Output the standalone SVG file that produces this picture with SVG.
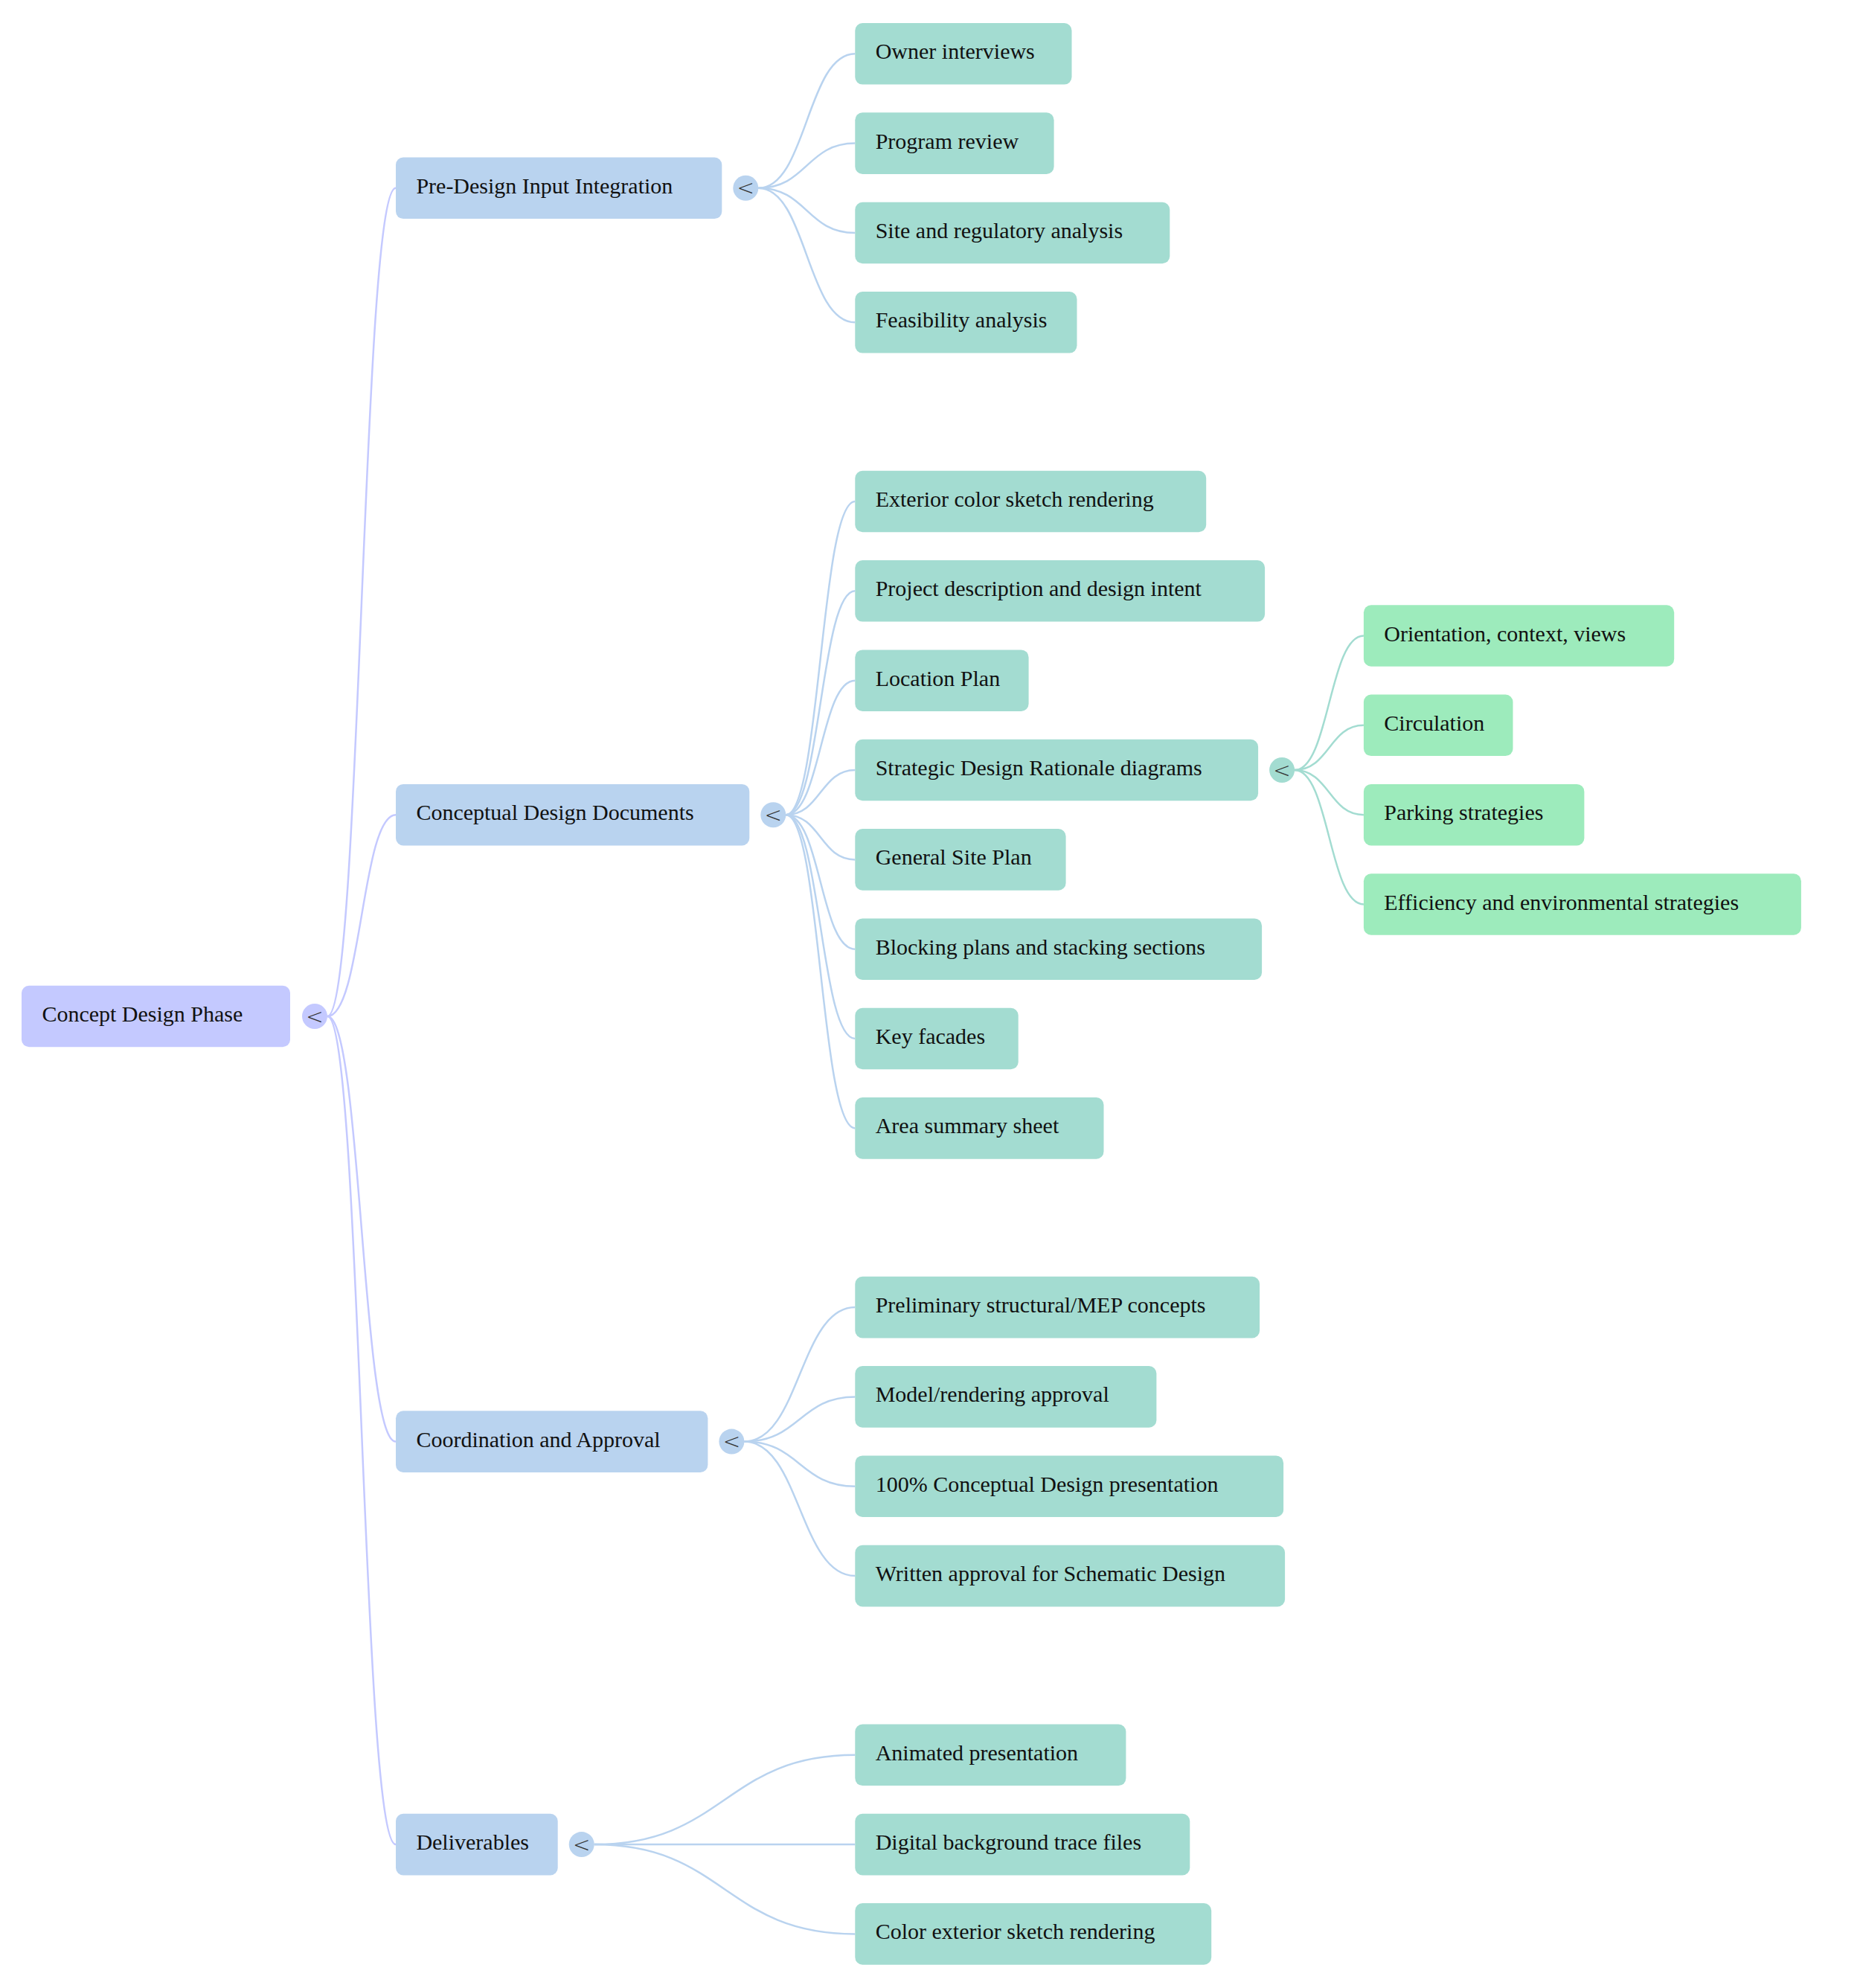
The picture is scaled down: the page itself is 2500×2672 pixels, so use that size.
<svg xmlns="http://www.w3.org/2000/svg" width="2500" height="2672" viewBox="0 0 2500 2672">
<style>
.t{font-family:"Liberation Serif","Times New Roman",serif;font-size:30px;fill:#111}
.tg{font-family:"DejaVu Sans","Liberation Sans",sans-serif;font-size:28px;font-weight:300;fill:#333;text-anchor:middle}
.n0{fill:#c4c9ff}
.n1{fill:#b9d3ef}
.n2{fill:#a3dcd1}
.n3{fill:#9debbc}
.e0{fill:none;stroke:#c4c9ff;stroke-width:2.5}
.e1{fill:none;stroke:#b9d3ef;stroke-width:2.5}
.e2{fill:none;stroke:#a3dcd1;stroke-width:2.5}
</style>
<rect width="2500" height="2672" fill="#ffffff"/>
<g id="connectors">
<path class="e0" d="M440 1366 C486 1366 486 252.8 532 252.8"/>
<path class="e0" d="M440 1366 C486 1366 486 1095.2 532 1095.2"/>
<path class="e0" d="M440 1366 C486 1366 486 1937.6 532 1937.6"/>
<path class="e0" d="M440 1366 C486 1366 486 2479.1 532 2479.1"/>
<path class="e1" d="M1019.3 252.8 C1084.3 252.8 1084.3 72.3 1149.3 72.3"/>
<path class="e1" d="M1019.3 252.8 C1084.3 252.8 1084.3 192.6 1149.3 192.6"/>
<path class="e1" d="M1019.3 252.8 C1084.3 252.8 1084.3 313 1149.3 313"/>
<path class="e1" d="M1019.3 252.8 C1084.3 252.8 1084.3 433.3 1149.3 433.3"/>
<path class="e1" d="M1056.3 1095.2 C1102.8 1095.2 1102.8 674 1149.3 674"/>
<path class="e1" d="M1056.3 1095.2 C1102.8 1095.2 1102.8 794.3 1149.3 794.3"/>
<path class="e1" d="M1056.3 1095.2 C1102.8 1095.2 1102.8 914.7 1149.3 914.7"/>
<path class="e1" d="M1056.3 1095.2 C1102.8 1095.2 1102.8 1035 1149.3 1035"/>
<path class="e1" d="M1056.3 1095.2 C1102.8 1095.2 1102.8 1155.4 1149.3 1155.4"/>
<path class="e1" d="M1056.3 1095.2 C1102.8 1095.2 1102.8 1275.7 1149.3 1275.7"/>
<path class="e1" d="M1056.3 1095.2 C1102.8 1095.2 1102.8 1396 1149.3 1396"/>
<path class="e1" d="M1056.3 1095.2 C1102.8 1095.2 1102.8 1516.4 1149.3 1516.4"/>
<path class="e1" d="M1000.4 1937.6 C1074.9 1937.6 1074.9 1757.1 1149.3 1757.1"/>
<path class="e1" d="M1000.4 1937.6 C1074.9 1937.6 1074.9 1877.4 1149.3 1877.4"/>
<path class="e1" d="M1000.4 1937.6 C1074.9 1937.6 1074.9 1997.7 1149.3 1997.7"/>
<path class="e1" d="M1000.4 1937.6 C1074.9 1937.6 1074.9 2118.1 1149.3 2118.1"/>
<path class="e1" d="M798.7 2479.1 C974 2479.1 974 2358.8 1149.3 2358.8"/>
<path class="e1" d="M798.7 2479.1 C974 2479.1 974 2479.1 1149.3 2479.1"/>
<path class="e1" d="M798.7 2479.1 C974 2479.1 974 2599.4 1149.3 2599.4"/>
<path class="e2" d="M1740.1 1035 C1786.5 1035 1786.5 854.5 1832.9 854.5"/>
<path class="e2" d="M1740.1 1035 C1786.5 1035 1786.5 974.8 1832.9 974.8"/>
<path class="e2" d="M1740.1 1035 C1786.5 1035 1786.5 1095.2 1832.9 1095.2"/>
<path class="e2" d="M1740.1 1035 C1786.5 1035 1786.5 1215.5 1832.9 1215.5"/>
</g>
<g id="root"><rect class="n0" x="29" y="1324.7" width="361" height="82.6" rx="10"/><text class="t" x="56.4" y="1373">Concept Design Phase</text><circle class="n0" cx="423" cy="1366" r="17"/><text class="tg" x="423" y="1375.5">&lt;</text></g>
<g id="pre"><rect class="n1" x="532" y="211.5" width="438.3" height="82.6" rx="10"/><text class="t" x="559.4" y="259.8">Pre-Design Input Integration</text><circle class="n1" cx="1002.3" cy="252.8" r="17"/><text class="tg" x="1002.3" y="262.3">&lt;</text></g>
<g id="conc"><rect class="n1" x="532" y="1053.9" width="475.3" height="82.6" rx="10"/><text class="t" x="559.4" y="1102.2">Conceptual Design Documents</text><circle class="n1" cx="1039.3" cy="1095.2" r="17"/><text class="tg" x="1039.3" y="1104.7">&lt;</text></g>
<g id="coord"><rect class="n1" x="532" y="1896.3" width="419.4" height="82.6" rx="10"/><text class="t" x="559.4" y="1944.6">Coordination and Approval</text><circle class="n1" cx="983.4" cy="1937.6" r="17"/><text class="tg" x="983.4" y="1947.1">&lt;</text></g>
<g id="deliv"><rect class="n1" x="532" y="2437.8" width="217.7" height="82.6" rx="10"/><text class="t" x="559.4" y="2486.1">Deliverables</text><circle class="n1" cx="781.7" cy="2479.1" r="17"/><text class="tg" x="781.7" y="2488.6">&lt;</text></g>
<g id="owner"><rect class="n2" x="1149.3" y="31" width="291.2" height="82.6" rx="10"/><text class="t" x="1176.7" y="79.3">Owner interviews</text></g>
<g id="program"><rect class="n2" x="1149.3" y="151.3" width="267.3" height="82.6" rx="10"/><text class="t" x="1176.7" y="199.6">Program review</text></g>
<g id="site"><rect class="n2" x="1149.3" y="271.7" width="423" height="82.6" rx="10"/><text class="t" x="1176.7" y="320">Site and regulatory analysis</text></g>
<g id="feas"><rect class="n2" x="1149.3" y="392" width="298.2" height="82.6" rx="10"/><text class="t" x="1176.7" y="440.3">Feasibility analysis</text></g>
<g id="exterior"><rect class="n2" x="1149.3" y="632.7" width="471.9" height="82.6" rx="10"/><text class="t" x="1176.7" y="681">Exterior color sketch rendering</text></g>
<g id="project"><rect class="n2" x="1149.3" y="753" width="550.8" height="82.6" rx="10"/><text class="t" x="1176.7" y="801.3">Project description and design intent</text></g>
<g id="location"><rect class="n2" x="1149.3" y="873.4" width="233.3" height="82.6" rx="10"/><text class="t" x="1176.7" y="921.7">Location Plan</text></g>
<g id="strategic"><rect class="n2" x="1149.3" y="993.7" width="541.8" height="82.6" rx="10"/><text class="t" x="1176.7" y="1042">Strategic Design Rationale diagrams</text><circle class="n2" cx="1723.1" cy="1035" r="17"/><text class="tg" x="1723.1" y="1044.5">&lt;</text></g>
<g id="general"><rect class="n2" x="1149.3" y="1114.1" width="283.3" height="82.6" rx="10"/><text class="t" x="1176.7" y="1162.4">General Site Plan</text></g>
<g id="blocking"><rect class="n2" x="1149.3" y="1234.4" width="546.8" height="82.6" rx="10"/><text class="t" x="1176.7" y="1282.7">Blocking plans and stacking sections</text></g>
<g id="key"><rect class="n2" x="1149.3" y="1354.7" width="219.4" height="82.6" rx="10"/><text class="t" x="1176.7" y="1403">Key facades</text></g>
<g id="area"><rect class="n2" x="1149.3" y="1475.1" width="334.2" height="82.6" rx="10"/><text class="t" x="1176.7" y="1523.4">Area summary sheet</text></g>
<g id="prelim"><rect class="n2" x="1149.3" y="1715.8" width="543.8" height="82.6" rx="10"/><text class="t" x="1176.7" y="1764.1">Preliminary structural/MEP concepts</text></g>
<g id="model"><rect class="n2" x="1149.3" y="1836.1" width="405.1" height="82.6" rx="10"/><text class="t" x="1176.7" y="1884.4">Model/rendering approval</text></g>
<g id="pres100"><rect class="n2" x="1149.3" y="1956.4" width="575.8" height="82.6" rx="10"/><text class="t" x="1176.7" y="2004.7">100% Conceptual Design presentation</text></g>
<g id="written"><rect class="n2" x="1149.3" y="2076.8" width="577.8" height="82.6" rx="10"/><text class="t" x="1176.7" y="2125.1">Written approval for Schematic Design</text></g>
<g id="animated"><rect class="n2" x="1149.3" y="2317.5" width="364.1" height="82.6" rx="10"/><text class="t" x="1176.7" y="2365.8">Animated presentation</text></g>
<g id="digital"><rect class="n2" x="1149.3" y="2437.8" width="450" height="82.6" rx="10"/><text class="t" x="1176.7" y="2486.1">Digital background trace files</text></g>
<g id="color"><rect class="n2" x="1149.3" y="2558.1" width="478.9" height="82.6" rx="10"/><text class="t" x="1176.7" y="2606.4">Color exterior sketch rendering</text></g>
<g id="orientation"><rect class="n3" x="1832.9" y="813.2" width="417.3" height="82.6" rx="10"/><text class="t" x="1860.3" y="861.5">Orientation, context, views</text></g>
<g id="circulation"><rect class="n3" x="1832.9" y="933.5" width="200.6" height="82.6" rx="10"/><text class="t" x="1860.3" y="981.8">Circulation</text></g>
<g id="parking"><rect class="n3" x="1832.9" y="1053.9" width="296.5" height="82.6" rx="10"/><text class="t" x="1860.3" y="1102.2">Parking strategies</text></g>
<g id="efficiency"><rect class="n3" x="1832.9" y="1174.2" width="588" height="82.6" rx="10"/><text class="t" x="1860.3" y="1222.5">Efficiency and environmental strategies</text></g>
</svg>
